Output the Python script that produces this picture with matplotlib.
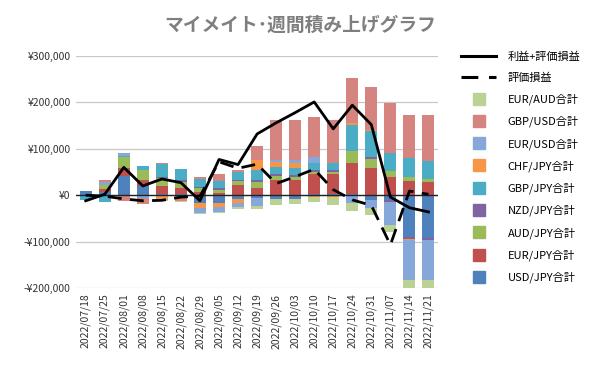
#!/usr/bin/env python3
# -*- coding: utf-8 -*-

# Weekly stacked bar chart of profit by currency pair, with two summary lines.

import matplotlib
matplotlib.use('Agg')
import matplotlib.pyplot as plt
from matplotlib.lines import Line2D
import numpy as np

plt.rcParams['font.family'] = ['Noto Sans CJK JP', 'DejaVu Sans']

# Week labels.
weeks = [
    '2022/07/18', '2022/07/25', '2022/08/01', '2022/08/08', '2022/08/15',
    '2022/08/22', '2022/08/29', '2022/09/05', '2022/09/12', '2022/09/19',
    '2022/09/26', '2022/10/03', '2022/10/10', '2022/10/17', '2022/10/24',
    '2022/10/31', '2022/11/07', '2022/11/14', '2022/11/21',
]

# Series values (yen), stacking order from the zero line outwards.
usd_jpy = [9000, 8000, 41000, 20000, 3600, 3600, -16500, -16500, -8000, -7000,
           -8000, -8500, 2000, 2000, 2000, -11000, -9500, -91000, -92000]
eur_jpy = [0, 6000, 17000, 13000, 16500, 12000, 8000, 5500, 21700, 15000,
           32600, 32600, 43500, 43000, 66700, 59400, 40000, 30400, 27500]
aud_jpy = [0, 8500, 24500, 21700, 16000, 13000, 7500, 6800, 8700, 14000,
           9000, 7000, 5000, 4300, 27000, 19000, 12300, 9400, 7000]
nzd_jpy = [0, 0, 0, 0, 3600, 3600, 2000, 4000, 2000, 3600,
           3600, 3600, 3600, 5000, 0, 3600, -6000, -3600, -3600]
gbp_jpy = [-10000, -15000, 2000, 9000, 27500, 24000, 16500, 14500, 18000, 21700,
           15000, 16000, 16000, 14500, 56500, 57000, 38400, 41300, 39000]
chf_jpy = [0, 0, 0, 0, -8500, -7000, -10000, -9000, -9400, 21700,
           11500, 9400, -3500, -3500, 3600, 2000, 0, -2000, -2000]
eur_usd = [0, 7000, 7000, -7000, -2000, 0, -12000, -11000, -8000, -16000,
           4500, 7000, 13000, 0, -17000, -17000, -48000, -87000, -85000]
gbp_usd = [0, 2500, -12000, -13000, 3000, -6000, 5000, 14500, 4500, 30000,
           86000, 87000, 85000, 94000, 96000, 92000, 108700, 92800, 100000]
eur_aud = [0, 0, 0, 0, -1000, -2000, -2500, -2000, -3600, -5800,
           -13000, -10000, -12000, -17000, -17000, -15000, -16500, -16500, -16500]

# Line series (yen).
total_pl = [-12000, 2000, 60000, 20000, 35000, 27000, -12000, 77000, 66000, 132000,
            156000, 178000, 201000, 143000, 194000, 152000, -4000, -27000, -36000]
unrealized = [0, -2000, -8000, -12000, -11000, -4000, -2000, 72000, 58000, 67000,
              25000, 40000, 56000, 12000, -10000, -22000, -107000, 9000, 2000]

series = [
    ('USD/JPY合計', usd_jpy, '#4F81BD'),
    ('EUR/JPY合計', eur_jpy, '#C0504D'),
    ('AUD/JPY合計', aud_jpy, '#9BBB59'),
    ('NZD/JPY合計', nzd_jpy, '#8064A2'),
    ('GBP/JPY合計', gbp_jpy, '#4BACC6'),
    ('CHF/JPY合計', chf_jpy, '#F79646'),
    ('EUR/USD合計', eur_usd, '#86A8D8'),
    ('GBP/USD合計', gbp_usd, '#D6847F'),
    ('EUR/AUD合計', eur_aud, '#BCD295'),
]

fig = plt.figure(figsize=(6.0, 3.71), dpi=100)
ax = fig.add_axes([0.127, 0.2237, 0.603, 0.6253])

x = np.arange(len(weeks))
pos_bottom = np.zeros(len(weeks))
neg_bottom = np.zeros(len(weeks))

# Stack positive values upwards and negative values downwards.
for name, vals, color in series:
    v = np.array(vals, dtype=float)
    pos = np.where(v > 0, v, 0)
    neg = np.where(v < 0, v, 0)
    ax.bar(x, pos, bottom=pos_bottom, width=0.63, color=color, linewidth=0, zorder=2)
    ax.bar(x, neg, bottom=neg_bottom, width=0.63, color=color, linewidth=0, zorder=2)
    pos_bottom += pos
    neg_bottom += neg

ax.plot(x, total_pl, color='black', linewidth=2, zorder=4)
ax.plot(x, unrealized, color='black', linewidth=2, linestyle=(0, (5, 3)), zorder=4)

ax.axhline(0, color='#222222', linewidth=1, zorder=3)

ax.set_xlim(-0.5, len(weeks) - 0.5)
ax.set_ylim(-200000, 300000)
yt = np.arange(-200000, 300001, 100000)
ax.set_yticks(yt)
ax.set_yticklabels([('-¥{:,}'.format(-v) if v < 0 else '¥{:,}'.format(v)) for v in yt],
                   fontsize=7.5, color='#333333')
ax.set_xticks(x)
ax.set_xticklabels(weeks, rotation=90, fontsize=7.5, color='#333333')
ax.tick_params(axis='both', length=0, pad=4)

ax.grid(True, axis='y', color='#c8c8c8', linewidth=0.9, zorder=0)
ax.set_axisbelow(True)
for s in ax.spines.values():
    s.set_visible(False)

fig.text(0.5, 0.932, 'マイメイト･週間積み上げグラフ', ha='center', va='center',
         fontsize=13.5, fontweight='bold', color='#7f7f7f')

# Legend: lines first, then bar series in reverse stacking order.
handles = [
    Line2D([], [], color='black', linewidth=2.2),
    Line2D([], [], color='black', linewidth=2.2, linestyle=(0, (5.5, 3.5))),
]
labels = ['利益+評価損益', '評価損益']
for name, vals, color in reversed(series):
    handles.append(Line2D([], [], marker='s', linestyle='None', markersize=8,
                          color=color))
    labels.append(name)

fig.legend(handles, labels, loc='upper left', bbox_to_anchor=(0.768, 0.862),
           frameon=False, fontsize=8, handlelength=3.2, handletextpad=1.0,
           labelspacing=0.97, borderpad=0, borderaxespad=0)

fig.savefig('out.png', dpi=100)
